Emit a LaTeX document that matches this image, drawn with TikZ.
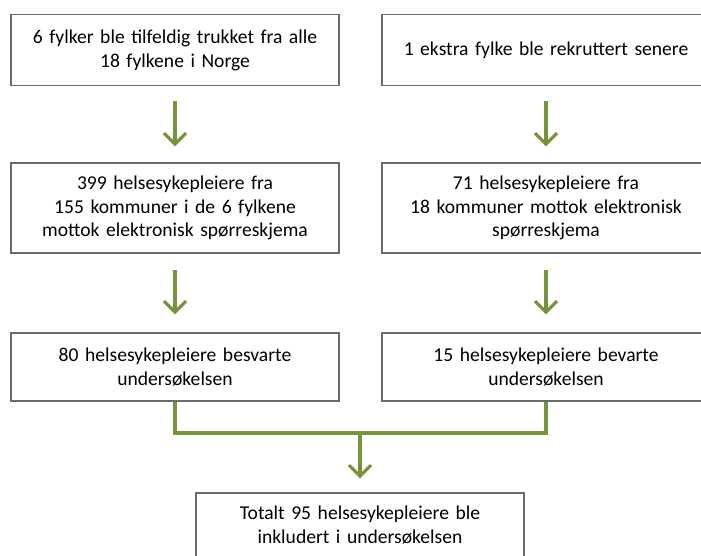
\documentclass[tikz,border=0pt]{standalone}
\usepackage{fontspec}
\setmainfont{Carlito}
\usepackage{xcolor}
\usepackage{tikz}
\usetikzlibrary{arrows.meta,positioning}
\definecolor{olivex}{HTML}{77933C}
\definecolor{edgex}{HTML}{6B6B6B}
\tikzset{
  box/.style={draw=edgex,line width=1.3pt,fill=white,align=center,text width=320pt,
    minimum width=328pt,inner sep=0pt,font=\fontsize{19.6}{23.8}\selectfont},
  arr/.style={-{Straight Barb[length=11pt,width=22pt]},line width=3.2pt,olivex},
  link/.style={line width=3.2pt,olivex}
}
\begin{document}
\begin{tikzpicture}[x=1pt,y=-1pt]
\useasboundingbox (0,0) rectangle (701,555);
\node[box,minimum height=71pt] (fylker) at (175,50.2) {6 fylker ble tilfeldig trukket fra alle\\18 fylkene i Norge};
\node[box,minimum height=71pt] (ekstra) at (546,50.2) {1 ekstra fylke ble rekruttert senere};
\node[box,minimum height=90pt] (sendtA) at (175,208) {399 helsesykepleiere fra\\155 kommuner i de 6 fylkene\\mottok elektronisk spørreskjema};
\node[box,minimum height=90pt] (sendtB) at (546,208) {71 helsesykepleiere fra\\18 kommuner mottok elektronisk\\spørreskjema};
\node[box,minimum height=68pt] (svarA) at (175,367) {80 helsesykepleiere besvarte\\undersøkelsen};
\node[box,minimum height=68pt] (svarB) at (546,367) {15 helsesykepleiere bevarte\\undersøkelsen};
\node[box,minimum height=64pt] (totalt) at (360,525) {Totalt 95 helsesykepleiere ble\\inkludert i undersøkelsen};
% piler mellom radene
\draw[arr,shorten <=15pt,shorten >=16pt] (fylker) -- (sendtA);
\draw[arr,shorten <=15pt,shorten >=16pt] (ekstra) -- (sendtB);
\draw[arr,shorten <=16pt,shorten >=18pt] (sendtA) -- (svarA);
\draw[arr,shorten <=16pt,shorten >=18pt] (sendtB) -- (svarB);
% samling
\coordinate (samle) at (360,433);
\draw[link] (svarA.south) |- (samle) -| (svarB.south);
\draw[arr,shorten >=14pt] (samle) -- (totalt);
\end{tikzpicture}
\end{document}
